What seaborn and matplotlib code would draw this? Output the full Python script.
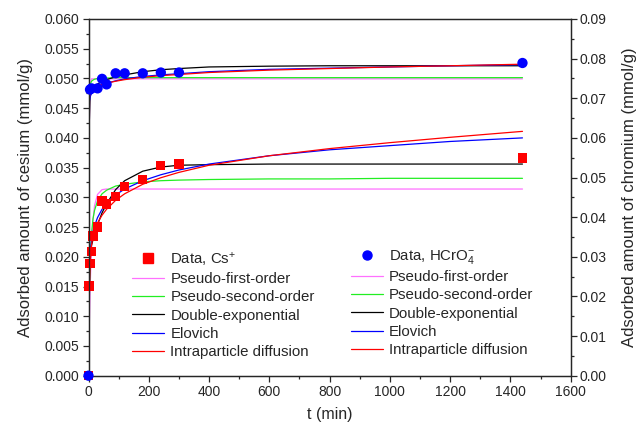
import matplotlib
matplotlib.use("Agg")
import matplotlib.pyplot as plt
from matplotlib.ticker import MultipleLocator, FormatStrFormatter
from matplotlib.lines import Line2D
import seaborn as sns
import pandas as pd

# ---------------- data ----------------
t_cs = [0, 2, 5, 10, 15, 30, 45, 60, 90, 120, 180, 240, 300, 1440]
q_cs = [0.0, 0.0151, 0.0189, 0.0209, 0.0235, 0.0250, 0.0294, 0.0289, 0.0302,
        0.0318, 0.0330, 0.0353, 0.0356, 0.0366]

t_cr = [0, 5, 10, 30, 45, 60, 90, 120, 180, 240, 300, 1440]
q_cr = [0.0, 0.0722, 0.0725, 0.0725, 0.0749, 0.0735, 0.0763, 0.0763, 0.0763,
        0.0765, 0.0765, 0.0789]

t_fit = [0, 1, 2, 5, 10, 15, 20, 30, 45, 60, 90, 120, 180, 240, 300, 400,
         600, 800, 1000, 1200, 1440]

# Cs+ model curves (left axis)
cs_pfo = [0, 0.0036, 0.0067, 0.0142, 0.0219, 0.0262, 0.0286, 0.0305, 0.0313,
          0.0314, 0.0314, 0.0314, 0.0314, 0.0314, 0.0314, 0.0314, 0.0314,
          0.0314, 0.0314, 0.0314, 0.0314]
cs_pso = [0, 0.0067, 0.0112, 0.0186, 0.0239, 0.0264, 0.0278, 0.0294, 0.0306,
          0.0312, 0.0319, 0.0322, 0.0326, 0.0328, 0.0329, 0.0330, 0.0331,
          0.0331, 0.0332, 0.0332, 0.0332]
cs_dexp = [0, 0.0081, 0.0130, 0.0194, 0.0219, 0.0229, 0.0238, 0.0254, 0.0274,
           0.0289, 0.0313, 0.0328, 0.0344, 0.0351, 0.0354, 0.0355, 0.0356,
           0.0356, 0.0356, 0.0356, 0.0356]
cs_elov = [0, 0.0148, 0.0172, 0.0204, 0.0228, 0.0242, 0.0252, 0.0266, 0.0280,
           0.0290, 0.0304, 0.0314, 0.0328, 0.0338, 0.0346, 0.0356, 0.0370,
           0.0380, 0.0387, 0.0394, 0.0400]
cs_ipd = [0, 0.0095, 0.0130, 0.0185, 0.0220, 0.0235, 0.0244, 0.0257, 0.0270,
          0.0280, 0.0295, 0.0306, 0.0322, 0.0333, 0.0342, 0.0354, 0.0370,
          0.0382, 0.0392, 0.0401, 0.0411]

# HCrO4- model curves (right axis)
cr_pfo = [0, 0.0413, 0.0598, 0.0735, 0.0749, 0.0749, 0.0749, 0.0749, 0.0749,
          0.0749, 0.0749, 0.0749, 0.0749, 0.0749, 0.0749, 0.0749, 0.0749,
          0.0749, 0.0749, 0.0749, 0.0749]
cr_pso = [0, 0.0665, 0.0706, 0.0734, 0.0743, 0.0746, 0.0748, 0.0750, 0.0751,
          0.0751, 0.0752, 0.0752, 0.0752, 0.0752, 0.0752, 0.0752, 0.0752,
          0.0752, 0.0752, 0.0752, 0.0752]
cr_dexp = [0, 0.0450, 0.0620, 0.0705, 0.0718, 0.0726, 0.0730, 0.0736, 0.0742,
           0.0747, 0.0754, 0.0759, 0.0767, 0.0772, 0.0775, 0.0779, 0.0781,
           0.0782, 0.0782, 0.0782, 0.0782]
cr_elov = [0, 0.0679, 0.0689, 0.0702, 0.0713, 0.0719, 0.0723, 0.0728, 0.0734,
           0.0738, 0.0744, 0.0749, 0.0755, 0.0759, 0.0762, 0.0767, 0.0773,
           0.0776, 0.0779, 0.0782, 0.0785]
cr_ipd = [0, 0.0680, 0.0700, 0.0712, 0.0720, 0.0724, 0.0727, 0.0731, 0.0735,
          0.0738, 0.0743, 0.0747, 0.0753, 0.0757, 0.0760, 0.0765, 0.0771,
          0.0775, 0.0779, 0.0782, 0.0786]

model_names = ["Pseudo-first-order", "Pseudo-second-order", "Double-exponential",
               "Elovich", "Intraparticle diffusion"]
model_colors = ["#FF70FF", "#22EE22", "#000000", "#0000FF", "#FF0000"]

# ---------------- style ----------------
sns.set_style("ticks")
plt.rcParams["font.family"] = ["Liberation Sans", "DejaVu Sans"]
plt.rcParams["mathtext.fontset"] = "custom"
plt.rcParams["mathtext.rm"] = "Liberation Sans"
plt.rcParams["mathtext.it"] = "Liberation Sans:italic"
plt.rcParams["axes.linewidth"] = 0.9

fig = plt.figure(figsize=(6.44, 4.29), dpi=100)
ax = fig.add_axes([88.5 / 644, 1 - 375.7 / 429, (570.7 - 88.5) / 644, (375.7 - 19) / 429])
ax2 = ax.twinx()

lw = 0.9
cs_curves = [cs_pfo, cs_pso, cs_dexp, cs_elov, cs_ipd]
cr_curves = [cr_pfo, cr_pso, cr_dexp, cr_elov, cr_ipd]

for vals, c in zip(cs_curves, model_colors):
    sns.lineplot(x=t_fit, y=vals, ax=ax, color=c, lw=lw, legend=False)
for vals, c in zip(cr_curves, model_colors):
    sns.lineplot(x=t_fit, y=vals, ax=ax2, color=c, lw=lw, legend=False)

sns.scatterplot(x=t_cs, y=q_cs, ax=ax, marker="s", color="#FF0000", s=45,
                edgecolor="none", clip_on=False, zorder=5, legend=False)
sns.scatterplot(x=t_cr, y=q_cr, ax=ax2, marker="o", color="#0000FF", s=55,
                edgecolor="none", clip_on=False, zorder=5, legend=False)

# axes
ax.set_xlim(0, 1600)
ax.set_ylim(0, 0.060)
ax2.set_ylim(0, 0.09)
ax.xaxis.set_major_locator(MultipleLocator(200))
ax.xaxis.set_minor_locator(MultipleLocator(100))
ax.yaxis.set_major_locator(MultipleLocator(0.005))
ax.yaxis.set_minor_locator(MultipleLocator(0.0025))
ax.yaxis.set_major_formatter(FormatStrFormatter("%.3f"))
ax2.yaxis.set_major_locator(MultipleLocator(0.01))
ax2.yaxis.set_minor_locator(MultipleLocator(0.005))
ax2.yaxis.set_major_formatter(FormatStrFormatter("%.2f"))

for a in (ax, ax2):
    a.tick_params(which="major", direction="out", length=4.5, width=0.9,
                  labelsize=10, pad=2)
    a.tick_params(which="minor", direction="out", length=2.5, width=0.9)
    for s in a.spines.values():
        s.set_visible(True)
        s.set_linewidth(0.9)

ax.set_xlabel("t (min)", fontsize=11.5, labelpad=6)
ax.set_ylabel("Adsorbed amount of cesium (mmol/g)", fontsize=12, labelpad=8)
ax2.set_ylabel("Adsorbed amount of chromium (mmol/g)", fontsize=12, labelpad=11)

# legends
def make_handles(marker, mcolor):
    hs = [Line2D([], [], ls="none", marker=marker, color=mcolor, markersize=6.5)]
    hs += [Line2D([], [], color=c, lw=lw) for c in model_colors]
    return hs

lab1 = ["Data, Cs$^{+}$"] + model_names
lab2 = ["Data, HCrO$_{4}^{-}$"] + model_names
common = dict(frameon=False, fontsize=10.8, handlelength=2.15, handletextpad=0.4,
              labelspacing=0.28, borderpad=0, borderaxespad=0, numpoints=1)
leg1 = ax2.legend(make_handles("s", "#FF0000"), lab1, loc="upper left",
                  bbox_to_anchor=(132 / 644, 1 - 250 / 429),
                  bbox_transform=fig.transFigure, **common)
ax2.add_artist(leg1)
leg2 = ax2.legend(make_handles("o", "#0000FF"), lab2, loc="upper left",
                  bbox_to_anchor=(351 / 644, 1 - 248 / 429),
                  bbox_transform=fig.transFigure, **common)

fig.savefig("out.png", dpi=100)
